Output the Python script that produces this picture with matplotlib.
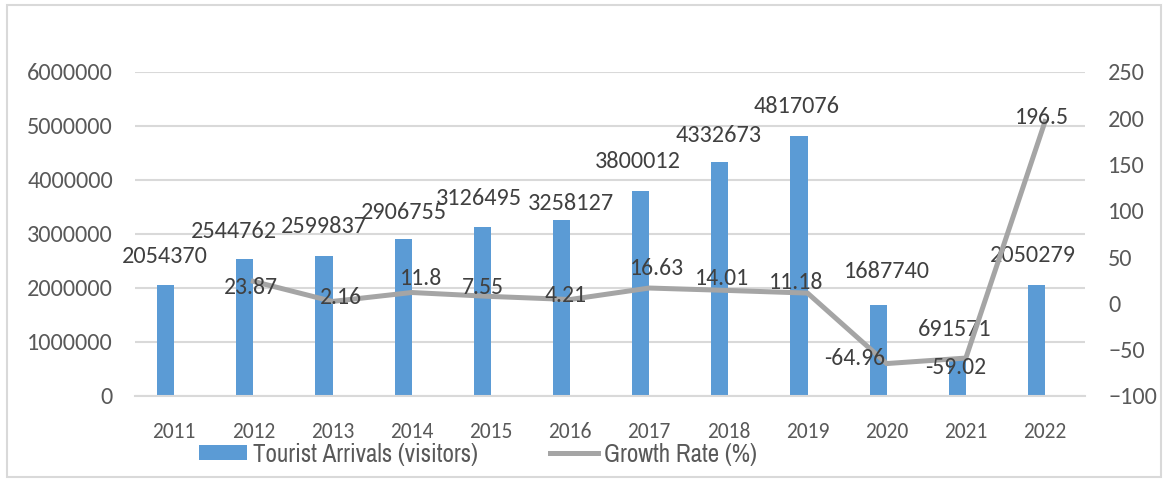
import numpy as np
import matplotlib
matplotlib.use('Agg')
import matplotlib.pyplot as plt
from matplotlib.patches import Rectangle
from matplotlib.ticker import FuncFormatter

plt.rcParams['font.family'] = ['Carlito', 'DejaVu Sans']
plt.rcParams['font.size'] = 17.5

years = ['2011', '2012', '2013', '2014', '2015', '2016',
         '2017', '2018', '2019', '2020', '2021', '2022']
arrivals = [2054370, 2544762, 2599837, 2906755, 3126495, 3258127,
            3800012, 4332673, 4817076, 1687740, 691571, 2050279]
growth = [np.nan, 23.87, 2.16, 11.8, 7.55, 4.21,
          16.63, 14.01, 11.18, -64.96, -59.02, 196.5]
growth_text = ['', '23.87', '2.16', '11.8', '7.55', '4.21',
               '16.63', '14.01', '11.18', '-64.96', '-59.02', '196.5']

# label nudges in pixels (dx, dy), hand placed
bar_lbl_off = [(-9, 29), (-19, 27), (-9, 29), (-8, 27), (-12, 29), (1, 17),
               (-11, 29), (-10, 27), (-11, 29), (0, 33), (-11, 29), (-12, 30)]
gr_lbl_off = [(0, 0), (-2, -6), (8, 4), (9, 14), (-8, 9), (-4, 4),
              (8, 20), (-6, 12), (-11, 11), (-32, 5), (-10, -9), (-3, 4)]

W, H = 1169, 482
fig = plt.figure(figsize=(W / 100, H / 100), dpi=100)
fig.patches.append(Rectangle((7 / W, 5 / H), 1154 / W, 472 / H, transform=fig.transFigure,
                             fill=False, ec='#d9d9d9', lw=1.5))

ax = fig.add_axes([134.6 / W, 86 / H, 950 / W, 324 / H])
x = np.arange(len(years))
w = 0.215
bars = ax.bar(x - w / 2, arrivals, width=w, color='#5b9bd5', label='Tourist Arrivals (visitors)')
ax.set_xlim(-0.5, 11.5)
ax.set_ylim(0, 6000000)
ax.set_yticks(range(0, 6000001, 1000000))
ax.yaxis.set_major_formatter(FuncFormatter(lambda v, p: '%d' % v))
ax.set_xticks(x)
ax.set_xticklabels(years, fontsize=15.5)
ax.yaxis.grid(True, color='#d9d9d9', lw=1.5)
ax.set_axisbelow(True)
for s in ['top', 'left', 'right']:
    ax.spines[s].set_visible(False)
ax.spines['bottom'].set_color('#d9d9d9')
ax.spines['bottom'].set_linewidth(1.5)
ax.tick_params(axis='x', length=0, pad=19, colors='#595959')
ax.tick_params(axis='y', length=0, pad=15.5, colors='#595959')

ax2 = ax.twinx()
line, = ax2.plot(x, growth, color='#a5a5a5', lw=3.6, solid_joinstyle='miter',
                 label='Growth Rate (%)')
ax2.set_ylim(-100, 250)
ax2.set_yticks(range(-100, 251, 50))
for s in ax2.spines.values():
    s.set_visible(False)
ax2.tick_params(axis='y', length=0, pad=17, colors='#595959')

for i, v in enumerate(arrivals):
    dx, dy = bar_lbl_off[i]
    ax.annotate(str(v), (x[i], v), xytext=(dx, dy), textcoords='offset pixels',
                ha='center', va='center', color='#404040', fontsize=17.5)

for i, v in enumerate(growth):
    if np.isnan(v):
        continue
    dx, dy = gr_lbl_off[i]
    ax2.annotate(growth_text[i], (x[i], v), xytext=(dx, dy), textcoords='offset pixels',
                 ha='center', va='center', color='#404040', fontsize=17)

fig.legend(handles=[bars, line], loc='center left', bbox_to_anchor=(199 / W, 28 / H),
           bbox_transform=fig.transFigure, ncol=2, frameon=False, borderpad=0,
           borderaxespad=0, handlelength=1.9, handleheight=0.55, handletextpad=0.25,
           columnspacing=2.9, labelcolor='#595959',
           prop={'family': ['Archivo Narrow', 'DejaVu Sans'], 'size': 18})

fig.savefig('out.png', dpi=100)
